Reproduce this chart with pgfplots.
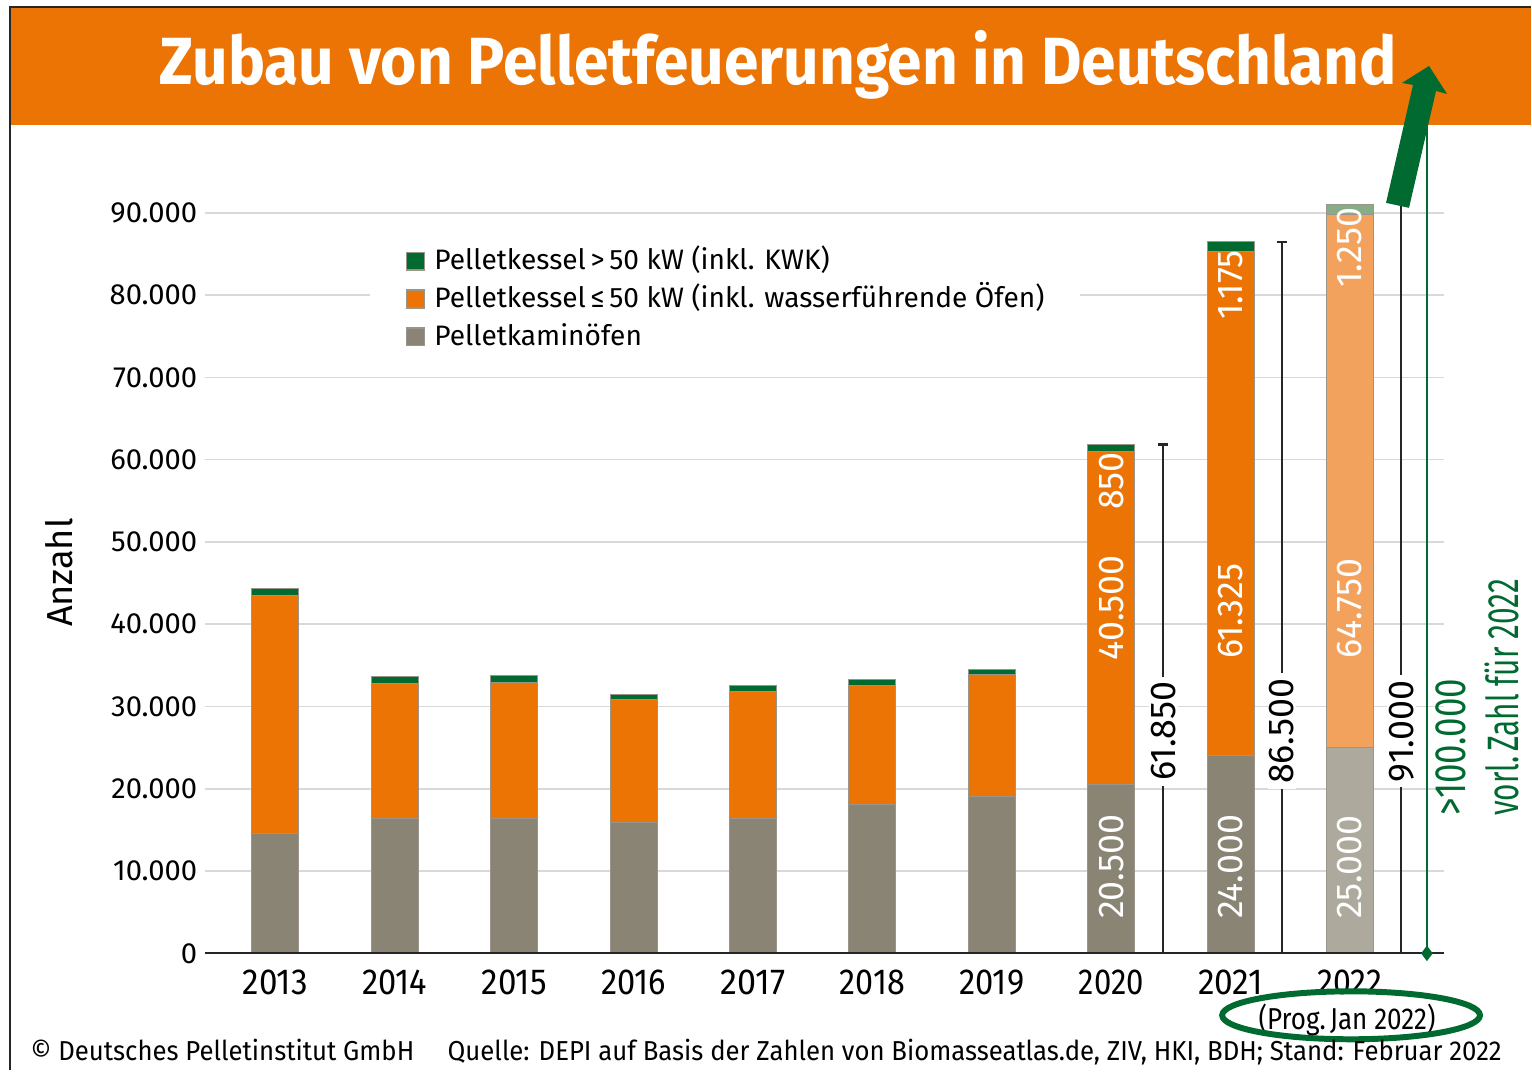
\documentclass[border=0pt]{standalone}
\usepackage{fontspec}
\setmainfont{Fira Sans}
\usepackage{graphicx}
\usepackage{pgfplots}
\pgfplotsset{compat=1.18}

\definecolor{orng}{HTML}{EC7404}
\definecolor{dgreen}{HTML}{006A30}
\definecolor{taupe}{HTML}{8A8475}
\definecolor{lorng}{HTML}{F2A25C}
\definecolor{ltaupe}{HTML}{ADA99C}
\definecolor{lgreen}{HTML}{87AD88}
\definecolor{gridc}{HTML}{D9D9D9}
\definecolor{barline}{HTML}{9A948A}

\newcommand{\sx}[1]{\resizebox{0.65cm}{\height}{#1}}
\newcommand{\lab}{\fontsize{10.2}{11}\selectfont}

\pgfplotsset{base/.style={at={(2.05cm,1.17cm)}, anchor=south west, scale only axis,
  width=12.40cm, height=7.41cm, xmin=-0.59, xmax=9.787, ymin=0, ymax=90000, clip=false}}

\begin{document}
\begin{tikzpicture}
\path (0,0) rectangle (15.32,10.71);
% title band and frame
\fill[orng] (0.11,9.46) rectangle (15.32,10.63);
\draw[black!85, line width=0.6pt] (0.10,0) -- (0.10,10.64) -- (15.32,10.64);
\node[white, anchor=base, inner sep=0, font=\bfseries\fontsize{19}{20}\selectfont] at (7.79,9.86)
  {\resizebox{12.38cm}{\height}{Zubau von Pelletfeuerungen in Deutschland}};

% 2013-2021
\begin{axis}[base, ybar stacked, bar width=0.47cm,
  axis line style={draw=none}, major tick length=0, scaled y ticks=false,
  ymajorgrids, grid style={draw=gridc, line width=0.45pt},
  ytick={0,10000,...,90000},
  yticklabel style={font=\fontsize{8.3}{9}\selectfont, inner sep=0pt, xshift=-0.07cm,
    /pgf/number format/1000 sep={.}, /pgf/number format/assume math mode=true},
  xtick={0,...,9},
  xticklabels={\sx{2013},\sx{2014},\sx{2015},\sx{2016},\sx{2017},\sx{2018},\sx{2019},\sx{2020},\sx{2021},\sx{2022}},
  xticklabel style={font=\fontsize{10.3}{11}\selectfont, inner sep=0pt, yshift=-0.16cm},
  reverse legend,
  legend style={at={(0.133,0.9636)}, anchor=north west, draw=none, fill=white,
    inner xsep=0.36cm, inner ysep=0.05cm, font=\fontsize{8.0}{10}\selectfont, row sep=0.07cm,
    nodes={inner sep=0pt, text height=0.24cm, text depth=0.07cm},
    /tikz/every odd column/.append style={column sep=0.09cm}},
  legend cell align=left,
  legend image code/.code={\draw[#1, draw=barline, line width=0.3pt] (0cm,-0.09cm) rectangle (0.18cm,0.09cm);}
]
\addplot[fill=taupe, draw=barline, line width=0.3pt] coordinates {(0,14600) (1,16400) (2,16400) (3,15900) (4,16400) (5,18100) (6,19100) (7,20500) (8,24000)};
\addplot[fill=orng, draw=barline, line width=0.3pt] coordinates {(0,28950) (1,16400) (2,16500) (3,14950) (4,15400) (5,14450) (6,14800) (7,40500) (8,61325)};
\addplot[fill=dgreen, draw=barline, line width=0.3pt] coordinates {(0,850) (1,850) (2,850) (3,650) (4,750) (5,750) (6,650) (7,850) (8,1175)};
\legend{Pelletkaminöfen, Pelletkessel\,≤\,50 kW (inkl. wasserführende Öfen), Pelletkessel\,>\,50 kW (inkl. KWK)}
\end{axis}

% 2022 forecast
\begin{axis}[base, hide axis, ybar stacked, bar width=0.47cm]
\addplot[fill=ltaupe, draw=barline, line width=0.3pt] coordinates {(9,25000)};
\addplot[fill=lorng, draw=barline, line width=0.3pt] coordinates {(9,64750)};
\addplot[fill=lgreen, draw=barline, line width=0.3pt] coordinates {(9,1250)};
\end{axis}

% totals and labels
\begin{axis}[base, hide axis]
\draw[black!85, line width=0.6pt] (axis cs:-0.59,0) -- (axis cs:9.787,0);
\addplot[ycomb, draw=black!85, line width=0.6pt, mark=-, mark size=0.05cm] coordinates {(7.435,61850) (8.43,86500)};
\addplot[ycomb, draw=black!85, line width=0.6pt] coordinates {(9.43,91000)};
\addplot[dgreen, line width=0.6pt, mark=diamond*, mark indices={1}, mark size=0.06cm] coordinates {(9.644,0) (9.644,100700)};
\node[rotate=90, fill=white, inner xsep=0.05cm, inner ysep=0.02cm, font=\lab] at (axis cs:7.435,27000) {61.850};
\node[rotate=90, fill=white, inner xsep=0.05cm, inner ysep=0.02cm, font=\lab] at (axis cs:8.43,27000) {86.500};
\node[rotate=90, fill=white, inner xsep=0.05cm, inner ysep=0.02cm, font=\lab] at (axis cs:9.43,27000) {91.000};
\begin{scope}[every node/.style={rotate=90, inner sep=0pt, text=white, font=\lab}]
\node[anchor=west] at (axis cs:7,4100) {20.500};
\node[anchor=west] at (axis cs:7,35500) {40.500};
\node[anchor=east] at (axis cs:7,61000) {850};
\node[anchor=west] at (axis cs:8,4100) {24.000};
\node[anchor=west] at (axis cs:8,35700) {61.325};
\node[anchor=east] at (axis cs:8,85500) {1.175};
\node[anchor=west] at (axis cs:9,4100) {25.000};
\node[anchor=west] at (axis cs:9,35700) {64.750};
\node[anchor=east] at (axis cs:9,90700) {1.250};
\end{scope}
\end{axis}

% arrow and notes
\fill[dgreen] (14.30,10.05) -- (14.03,9.88) -- (14.14,9.86) -- (13.87,8.68) -- (14.10,8.63) -- (14.37,9.80) -- (14.48,9.77) -- cycle;
\node[rotate=90, anchor=base west, inner sep=0, text=dgreen, font=\fontsize{12.5}{13}\selectfont] at (14.67,2.54)
  {\resizebox{1.37cm}{\height}{>100.000}};
\node[rotate=90, anchor=base west, inner sep=0, text=dgreen, font=\fontsize{12.5}{13}\selectfont] at (15.20,2.54)
  {\resizebox{2.37cm}{\height}{vorl.\,Zahl für 2022}};
\node[rotate=90, anchor=base, inner sep=0, font=\fontsize{10.3}{11}\selectfont] at (0.73,4.98) {Anzahl};
\node[anchor=base, inner sep=0, font=\fontsize{8.6}{9}\selectfont] at (13.48,0.41)
  {\resizebox{1.77cm}{\height}{(Prog.\,Jan 2022)}};
\draw[dgreen, line width=1.7pt] (13.52,0.55) ellipse [x radius=1.29, y radius=0.24];
\node[anchor=base west, inner sep=0, font=\fontsize{7.8}{9}\selectfont] at (0.30,0.10)
  {\resizebox{14.72cm}{\height}{© Deutsches Pelletinstitut GmbH\hspace{1.3em}Quelle: DEPI auf Basis der Zahlen von Biomasseatlas.de, ZIV, HKI, BDH; Stand: Februar 2022}};
\end{tikzpicture}
\end{document}
